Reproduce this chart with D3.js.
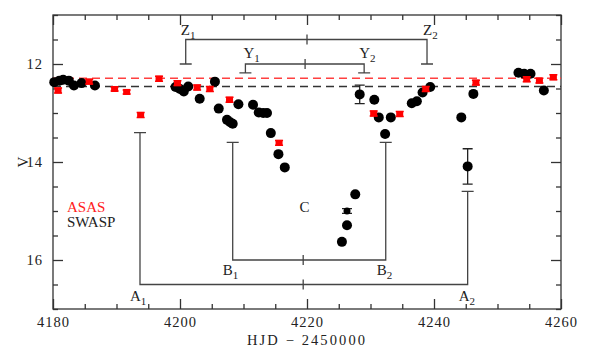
<!DOCTYPE html>
<html>
<head>
<meta charset="utf-8">
<script src="https://cdn.jsdelivr.net/npm/d3@7"></script>
<style>
  body { margin: 0; background: #fff; }
  text { font-family: "Liberation Serif", "DejaVu Serif", serif; fill: #222; }
  .axis path, .axis line { stroke: #333; stroke-width: 1.3; }
</style>
</head>
<body>
<svg id="chart"></svg>
<script>
// SWASP photometry (black)
const swaspHJD = [4180.2, 4181.0, 4181.6, 4182.5, 4183.3, 4184.5, 4186.6,
  4199.3, 4200.0, 4200.6, 4201.3, 4203.1, 4205.5, 4206.1, 4207.4, 4207.9, 4208.3,
  4209.2, 4211.5, 4212.4, 4213.1, 4213.7, 4214.3, 4215.5, 4216.5,
  4225.5, 4226.3, 4226.3, 4227.6, 4228.3, 4230.6, 4231.3, 4232.3, 4233.2,
  4236.5, 4237.3, 4238.2, 4239.4, 4244.3, 4245.3, 4246.2,
  4253.3, 4254.2, 4255.2, 4257.3];
const swaspV = [12.37, 12.34, 12.32, 12.34, 12.44, 12.39, 12.44,
  12.47, 12.51, 12.56, 12.46, 12.71, 12.36, 12.91, 13.14, 13.19, 13.22,
  12.82, 12.83, 12.99, 13.00, 13.00, 13.41, 13.84, 14.11,
  15.63, 15.29, 15.00, 14.66, 12.62, 12.73, 13.09, 13.43, 13.09,
  12.80, 12.76, 12.58, 12.47, 13.09, 14.09, 12.61,
  12.18, 12.20, 12.20, 12.54];
const swaspErr = [0, 0, 0, 0, 0, 0, 0,
  0, 0, 0, 0, 0, 0, 0, 0, 0, 0,
  0, 0, 0, 0, 0, 0, 0, 0,
  0, 0, 0.05, 0, 0.19, 0, 0, 0, 0,
  0, 0, 0, 0, 0, 0.36, 0,
  0, 0, 0, 0];

// ASAS photometry (red)
const asasHJD = [4180.8, 4185.7, 4189.7, 4191.6, 4193.8, 4196.7, 4199.6, 4202.7,
  4204.7, 4207.8, 4215.6, 4230.5, 4234.6, 4238.7, 4246.6, 4254.6, 4256.6, 4258.8];
const asasV = [12.54, 12.36, 12.51, 12.57, 13.04, 12.30, 12.39, 12.48,
  12.51, 12.73, 13.61, 13.01, 13.02, 12.51, 12.38, 12.31, 12.34, 12.27];
const asasErr = [0.05, 0.05, 0.04, 0.04, 0.05, 0.05, 0.05, 0.05,
  0.05, 0.05, 0.05, 0.05, 0.05, 0.05, 0.05, 0.05, 0.05, 0.05];

// mean levels (dashed)
const levelNames = ['ASAS', 'SWASP'];
const levelV = [12.29, 12.46];

// eclipse brackets
const bracketNames = ['Z', 'Y', 'A', 'B'];
const bracketStart = [4200.9, 4210.3, 4193.7, 4208.3];
const bracketEnd = [4238.9, 4229.0, 4245.3, 4232.4];
const bracketBar = [11.5, 12.0, 16.5, 16.0];
const bracketCap1 = [12.0, 12.18, 13.40, 13.60];
const bracketCap2 = [12.0, 12.18, 14.60, 13.60];
const bracketMid = [4220.0, 4219.7, 4219.4, 4219.4];

const xTicks = [4180, 4200, 4220, 4240, 4260];
const yTicks = [12, 14, 16];

const W = 600, H = 364;
const margin = { top: 15, right: 39, bottom: 55, left: 53 };
const width = W - margin.left - margin.right;
const height = H - margin.top - margin.bottom;

const svg = d3.select('#chart').attr('width', W).attr('height', H);
const g = svg.append('g').attr('transform', `translate(${margin.left},${margin.top})`);

const x = d3.scaleLinear().domain([4180, 4260]).range([0, width]);
const y = d3.scaleLinear().domain([11, 17]).range([0, height]);

const xMinor = d3.range(4180, 4261, 5).filter(v => !xTicks.includes(v));
const yMinor = d3.range(11, 17.01, 0.5).filter(v => !yTicks.includes(v));

// axes: ticks inside on all four sides
function addAxis(axis, tf, cls) {
  return g.append('g').attr('class', 'axis ' + cls).attr('transform', tf).call(axis);
}
addAxis(d3.axisBottom(x).tickValues(xTicks).tickSize(-10).tickSizeOuter(0).tickPadding(8).tickFormat(d3.format('d')), `translate(0,${height})`, 'xb')
  .selectAll('text').attr('font-size', 14.5).attr('letter-spacing', 1).attr('fill', '#222');
addAxis(d3.axisBottom(x).tickValues(xMinor).tickSize(-5).tickSizeOuter(0).tickFormat(''), `translate(0,${height})`, 'xbm');
addAxis(d3.axisTop(x).tickValues(xTicks).tickSize(-10).tickSizeOuter(0).tickFormat(''), 'translate(0,0)', 'xt');
addAxis(d3.axisTop(x).tickValues(xMinor).tickSize(-5).tickSizeOuter(0).tickFormat(''), 'translate(0,0)', 'xtm');
addAxis(d3.axisLeft(y).tickValues(yTicks).tickSize(-10).tickSizeOuter(0).tickPadding(10).tickFormat(d3.format('d')), 'translate(0,0)', 'yl')
  .selectAll('text').attr('font-size', 14.5).attr('letter-spacing', 1).attr('fill', '#222');
addAxis(d3.axisLeft(y).tickValues(yMinor).tickSize(-5).tickSizeOuter(0).tickFormat(''), 'translate(0,0)', 'ylm');
addAxis(d3.axisRight(y).tickValues(yTicks).tickSize(-10).tickSizeOuter(0).tickFormat(''), `translate(${width},0)`, 'yr');
addAxis(d3.axisRight(y).tickValues(yMinor).tickSize(-5).tickSizeOuter(0).tickFormat(''), `translate(${width},0)`, 'yrm');
g.selectAll('.axis .domain').remove();
g.append('rect').attr('width', width).attr('height', height)
  .attr('fill', 'none').attr('stroke', '#333').attr('stroke-width', 1.3);

// axis titles
svg.append('text')
  .attr('x', margin.left + width / 2 - 1).attr('y', 345)
  .attr('text-anchor', 'middle').attr('font-size', 14.5)
  .attr('textLength', 118)
  .text('HJD \u2212 2450000');
svg.append('text')
  .attr('transform', `translate(28,${margin.top + height / 2}) rotate(-90)`)
  .attr('text-anchor', 'middle').attr('font-size', 15)
  .text('V');

// dashed mean levels
g.selectAll('.level')
  .data(levelV)
  .join('line')
  .attr('class', 'level')
  .attr('x1', 0).attr('x2', width)
  .attr('y1', d => y(d)).attr('y2', d => y(d))
  .attr('stroke', (d, i) => i === 0 ? '#ff4040' : '#333')
  .attr('stroke-width', 1.4)
  .attr('stroke-dasharray', '8,5');

// brackets
const brackets = bracketNames.map((n, i) => ({
  name: n, x1: bracketStart[i], x2: bracketEnd[i], bar: bracketBar[i],
  c1: bracketCap1[i], c2: bracketCap2[i], mid: bracketMid[i]
}));
const bg = g.append('g').attr('stroke', '#444').attr('stroke-width', 1.3).attr('fill', 'none');
brackets.forEach(b => {
  bg.append('path').attr('d',
    `M${x(b.x1)},${y(b.c1)}V${y(b.bar)}H${x(b.x2)}V${y(b.c2)}` +
    `M${x(b.x1) - 6},${y(b.c1)}h12M${x(b.x2) - 6},${y(b.c2)}h12` +
    `M${x(b.mid)},${y(b.bar) - 5}v10`);
});

// bracket labels with subscripts
function label(px, py, letter, sub) {
  const t = g.append('text').attr('x', px).attr('y', py).attr('font-size', 15);
  t.append('tspan').text(letter);
  t.append('tspan').attr('dy', 4).attr('font-size', 11).text(sub);
}
brackets.forEach(b => {
  let dy, dx1, dx2;
  if (b.name === 'Z') { dy = -5; dx1 = -5; dx2 = -4; }
  else if (b.name === 'Y') { dy = -6; dx1 = -2; dx2 = -5; }
  else { dy = 16; dx1 = -10; dx2 = -9; }
  if (b.name === 'B') dy = 15;
  label(x(b.x1) + dx1, y(b.bar) + dy, b.name, '1');
  label(x(b.x2) + dx2, y(b.bar) + dy, b.name, '2');
});
g.append('text').attr('x', x(4219.6)).attr('y', y(15.02))
  .attr('text-anchor', 'middle').attr('font-size', 15).text('C');

// legend
g.append('text').attr('x', 14).attr('y', 197).attr('font-size', 15)
  .style('fill', '#ff2020').text('ASAS');
g.append('text').attr('x', 14).attr('y', 212).attr('font-size', 15)
  .text('SWASP');

// SWASP points
const swasp = swaspHJD.map((d, i) => ({ hjd: d, v: swaspV[i], err: swaspErr[i] }));
const sg = g.append('g');
sg.selectAll('.sw-err')
  .data(swasp.filter(d => d.err > 0))
  .join('path')
  .attr('class', 'sw-err')
  .attr('stroke', '#222').attr('stroke-width', 1.3).attr('fill', 'none')
  .attr('d', d => {
    const cx = x(d.hjd), y1 = y(d.v - d.err), y2 = y(d.v + d.err);
    return `M${cx},${y1}V${y2}M${cx - 5},${y1}h10M${cx - 5},${y2}h10`;
  });
sg.selectAll('circle')
  .data(swasp)
  .join('circle')
  .attr('cx', d => x(d.hjd))
  .attr('cy', d => y(d.v))
  .attr('r', d => d.err > 0 && d.err < 0.1 ? 3.5 : 5)
  .attr('fill', '#000');

// ASAS points
const asas = asasHJD.map((d, i) => ({ hjd: d, v: asasV[i], err: asasErr[i] }));
const ag = g.append('g');
ag.selectAll('.as-err')
  .data(asas)
  .join('path')
  .attr('class', 'as-err')
  .attr('stroke', '#ff0000').attr('stroke-width', 1.5).attr('fill', 'none')
  .attr('d', d => {
    const cx = x(d.hjd), y1 = y(d.v - d.err), y2 = y(d.v + d.err);
    return `M${cx},${y1}V${y2}M${cx - 4},${y1}h8M${cx - 4},${y2}h8`;
  });
ag.selectAll('rect')
  .data(asas)
  .join('rect')
  .attr('x', d => x(d.hjd) - 3.5)
  .attr('y', d => y(d.v) - 3)
  .attr('width', 7).attr('height', 6)
  .attr('fill', '#ff0000');
</script>
</body>
</html>
